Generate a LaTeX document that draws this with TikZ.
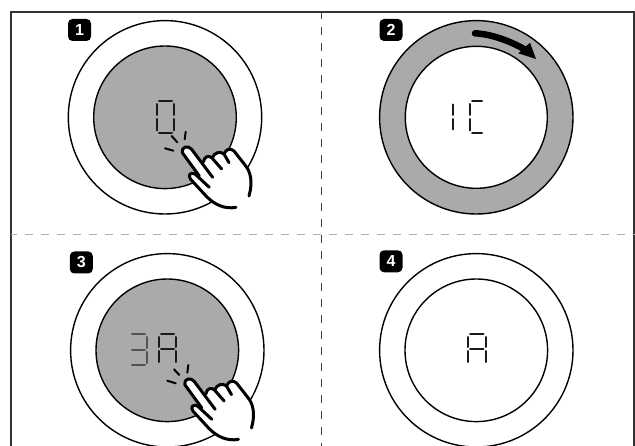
\documentclass[tikz,border=0pt]{standalone}
\usepackage{fontspec}
\setmainfont{Liberation Sans}
\definecolor{panelgrey}{RGB}{170,170,170}
\tikzset{
  x=1pt,y=-1pt,
  ring/.style={draw=black,line width=1.4pt},
  seg/.style={draw=black!90,line width=2pt,line cap=round},
  dimseg/.style={draw=black!68,line width=2pt,line cap=round},
  tick/.style={draw=black,line width=2pt,line cap=round},
  handline/.style={draw=black,line width=3pt,line join=round,line cap=round},
  badge/.style={fill=black,rounded corners=4.5pt,minimum width=23pt,minimum height=22pt,inner sep=0pt,text=white,font=\bfseries\fontsize{16}{16}\selectfont},
  sepline/.style={line width=1pt,dash pattern=on 8pt off 8pt},
}
\newcommand{\sevenseg}[7]{%
 \foreach \sg in {#7}{%
  \ifnum\sg=1 \draw[#1] (#2+2,#3) -- (#4-2,#3);\fi
  \ifnum\sg=2 \draw[#1] (#4,#3+2.5) -- (#4,#5-2);\fi
  \ifnum\sg=3 \draw[#1] (#4,#5+2) -- (#4,#6-2.5);\fi
  \ifnum\sg=4 \draw[#1] (#2+2,#6) -- (#4-2,#6);\fi
  \ifnum\sg=5 \draw[#1] (#2,#5+2) -- (#2,#6-2.5);\fi
  \ifnum\sg=6 \draw[#1] (#2,#3+2.5) -- (#2,#5-2);\fi
  \ifnum\sg=7 \draw[#1] (#2+2,#5) -- (#4-2,#5);\fi
 }}
\newcommand{\handshape}[2]{%
 \begin{scope}[shift={(#1,#2)},xscale=1/3,yscale=1/3]
  \fill[white] (97,182) .. controls (100,168) and (115,165) .. (125,178)
    -- (158,218) .. controls (163,200) and (175,195) .. (185,203)
    .. controls (198,188) and (210,182) .. (222,192)
    .. controls (228,178) and (240,172) .. (252,183)
    -- (285,225) .. controls (300,245) and (307,275) .. (295,318)
    -- (258,352) .. controls (225,358) and (195,345) .. (170,320)
    -- (122,268) .. controls (112,255) and (122,245) .. (135,252) -- (148,262) -- cycle;
  \draw[handline] (148,258) -- (97,188) .. controls (93,170) and (115,165) .. (125,178)
    -- (188,262);
  \draw[handline] (160,216) .. controls (163,200) and (175,195) .. (185,203) -- (215,237);
  \draw[handline] (187,203) .. controls (193,188) and (210,182) .. (222,192) -- (237,218);
  \draw[handline] (222,192) .. controls (228,178) and (240,172) .. (252,183)
    -- (285,225) .. controls (302,245) and (309,275) .. (297,318);
  \draw[handline] (258,352) .. controls (225,358) and (195,345) .. (170,320)
    -- (122,268) .. controls (112,255) and (122,245) .. (135,252) -- (178,292);
 \end{scope}}
\begin{document}
\begin{tikzpicture}
\useasboundingbox (0,0) rectangle (635,446);
\fill[white] (0,0) rectangle (635,446);
\draw[black!80,line width=1.3pt] (11,446) -- (11,12) -- (634,12) -- (634,446);
\begin{scope}
\clip (11,0) rectangle (635,446);
\draw[sepline,draw=black!30] (9,234.3) -- (635,234.3);
\end{scope}
\draw[sepline,draw=black!75] (321,11) -- (321,446);
% panel 1
\draw[ring] (165,117.3) circle[radius=96.7];
\draw[ring,fill=panelgrey] (165,117.3) circle[radius=71.3];
\node[badge] (b1) at (79.5,30) {1};
\sevenseg{seg}{157}{101.5}{174}{117}{133}{1,2,3,4,5,6}
\draw[tick] (171.7,136) -- (177.3,142.3);
\draw[tick] (185.7,131.7) -- (184.7,139.3);
\draw[tick] (165,148.3) -- (173.3,150.7);
\handshape{150}{90}
% panel 2
\draw[ring,fill=panelgrey] (476.3,117.3) circle[radius=96.7];
\draw[ring,fill=white] (476.3,117.3) circle[radius=71];
\node[badge] (b2) at (391,30) {2};
\sevenseg{seg}{453}{102}{453}{117}{132}{5,6}
\sevenseg{seg}{470}{101.5}{484}{117}{133}{1,4,5,6}
\draw[line width=6.5pt,line cap=round] (475,33.3) .. controls (490,34) and (508,40) .. (524,49);
\fill (530,42.7) -- (536,59) -- (518.3,53.3) -- cycle;
% panel 3
\draw[ring] (167.3,350.3) circle[radius=96.7];
\draw[ring,fill=panelgrey] (167.3,350.3) circle[radius=71.3];
\node[badge] (b3) at (81.3,262.5) {3};
\sevenseg{dimseg}{130}{334.5}{147}{350}{365.5}{1,2,3,4,7}
\sevenseg{seg}{159}{334.5}{176}{349}{364.5}{1,2,3,5,6,7}
\draw[tick] (174,369.3) -- (179.3,375);
\draw[tick] (188.3,365) -- (187.3,372.7);
\draw[tick] (167.3,380.7) -- (175.7,383.3);
\handshape{152.5}{322}
% panel 4
\draw[ring] (476.3,350.3) circle[radius=96.7];
\draw[ring] (476.3,350.3) circle[radius=71.3];
\node[badge] (b4) at (391,261.3) {4};
\sevenseg{seg}{468}{334.5}{485.5}{349}{364.5}{1,2,3,5,6,7}
\end{tikzpicture}
\end{document}
